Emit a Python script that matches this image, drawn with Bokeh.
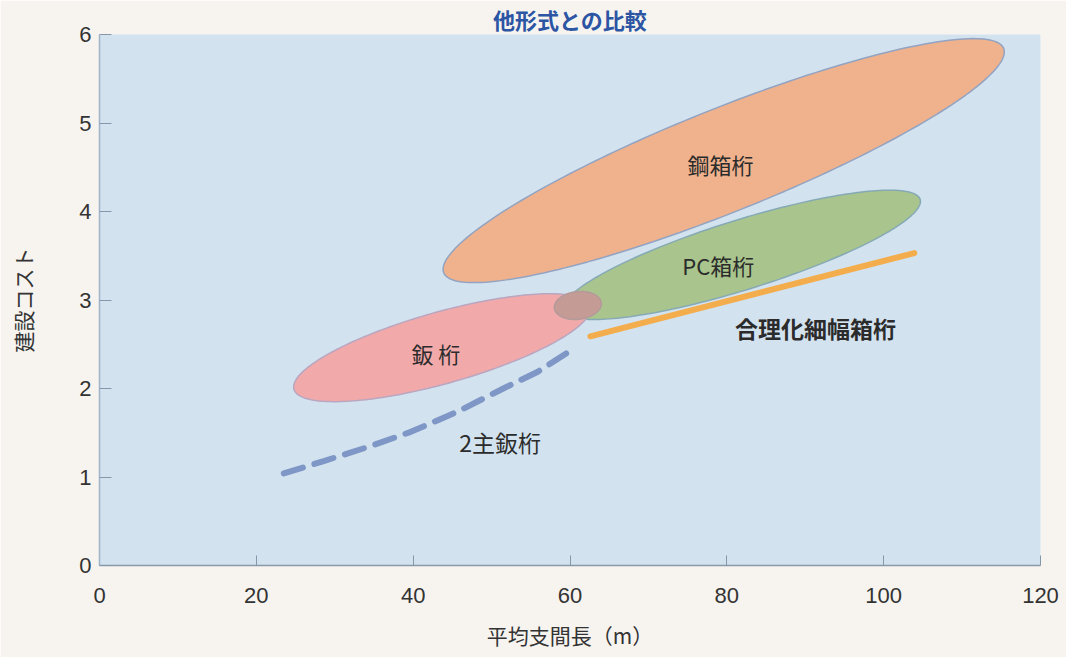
import numpy as np
from bokeh.plotting import figure
from bokeh.models import Label, Range1d, FixedTicker
from bokeh.embed import file_html
from bokeh.resources import INLINE

# ---- texts ----
title_text = "他形式との比較"
x_label = "平均支間長（m）"
y_label = "建設コスト"
x_ticks = [0, 20, 40, 60, 80, 100, 120]
y_ticks = [0, 1, 2, 3, 4, 5, 6]

# ---- regions (ellipses): centre and two conjugate semi-diameters, data units ----
region_names = ["鋼箱桁", "PC箱桁", "鈑桁", "重なり"]
region_cx = [79.6, 81.9, 43.7, 61.0]
region_cy = [4.575, 3.51, 2.461, 2.938]
region_ux = [35.7, 22.75, 18.9, 3.0]
region_uy = [1.268, 0.627, 0.470, 0.02]
region_vx = [-2.484, -1.335, -1.25, 0.0]
region_vy = [0.541, 0.3745, 0.3885, 0.157]

# ---- 合理化細幅箱桁 (line) ----
narrow_x = [62.6, 103.9]
narrow_y = [2.59, 3.53]

# ---- 2主鈑桁 (dashed curve) ----
two_x = [23.5, 28.6, 34.6, 39.7, 45.7, 51.5, 55.9, 60.1]
two_y = [1.04, 1.18, 1.35, 1.51, 1.74, 2.00, 2.19, 2.43]

# ---- labels ----
lab_text = ["鋼箱桁", "PC箱桁", "合理化細幅箱桁", "鈑 桁", "2主鈑桁"]
lab_x = [79.2, 78.9, 91.3, 42.9, 51.1]
lab_y = [4.54, 3.40, 2.68, 2.40, 1.40]

fills = ["#efb28d", "#a9c48c", "#f2a9aa", "#c49b95"]
edges = ["#93a3c2", "#86aab5", "#b9a6c0", "#b49a9a"]
lab_sizes = ["22px", "22px", "23px", "22px", "23px"]
lab_styles = ["normal", "normal", "bold", "normal", "normal"]

p = figure(frame_width=941, frame_height=531, min_border_left=99, min_border_right=26,
           min_border_top=0, min_border_bottom=92,
           x_range=Range1d(0, 120), y_range=Range1d(0, 6),
           output_backend="svg", toolbar_location=None)
p.background_fill_color = "#d2e2ee"
p.border_fill_color = "#f7f4f0"
p.outline_line_color = None
p.grid.visible = False

p.title.text = title_text
p.title.align = "center"
p.title.text_font = "Noto Sans CJK JP"
p.title.text_font_size = "22px"
p.title.text_font_style = "bold"
p.title.text_color = "#2c55a3"
p.title.standoff = 0
p.title.offset = 0

t = np.linspace(0, 2 * np.pi, 200)
for i in range(len(region_names)):
    xs = region_cx[i] + region_ux[i] * np.cos(t) + region_vx[i] * np.sin(t)
    ys = region_cy[i] + region_uy[i] * np.cos(t) + region_vy[i] * np.sin(t)
    p.patch(xs, ys, fill_color=fills[i], line_color=edges[i], line_width=1.5)

p.line(narrow_x, narrow_y, line_color="#f4ad4c", line_width=6, line_cap="round")
p.line(two_x, two_y, line_color="#7f97c6", line_width=6, line_dash="20 12", line_cap="round")

for i in range(len(lab_text)):
    p.add_layout(Label(x=lab_x[i], y=lab_y[i], text=lab_text[i], text_align="center",
                       text_baseline="middle", text_font="Noto Sans CJK JP",
                       text_font_size=lab_sizes[i], text_font_style=lab_styles[i],
                       text_color="#2b2b2b"))

for ax, ticks in ((p.xaxis, x_ticks), (p.yaxis, y_ticks)):
    ax.ticker = FixedTicker(ticks=ticks)
    ax.major_label_text_font = "Liberation Sans"
    ax.major_label_text_font_size = "22px"
    ax.major_label_text_color = "#333333"
    ax.axis_label_text_font = "Noto Sans CJK JP"
    ax.axis_label_text_font_size = "21px"
    ax.axis_label_text_font_style = "normal"
    ax.axis_label_text_color = "#333333"
    ax.major_tick_out = 0
    ax.minor_tick_line_color = None
    ax.major_tick_line_color = "#8797aa"
    ax.axis_line_color = "#9fb3c9"
    ax.axis_line_width = 1.5

p.xaxis.axis_label = x_label
p.yaxis.axis_label = y_label
p.xaxis.major_tick_in = 10
p.yaxis.major_tick_in = 12
p.xaxis.major_label_standoff = 22
p.xaxis.axis_label_standoff = 14
p.yaxis.major_label_standoff = 8
p.yaxis.axis_label_standoff = 38
p.xaxis.axis_line_color = "#8a98a8"

open("out.html", "w").write(file_html(p, INLINE))
